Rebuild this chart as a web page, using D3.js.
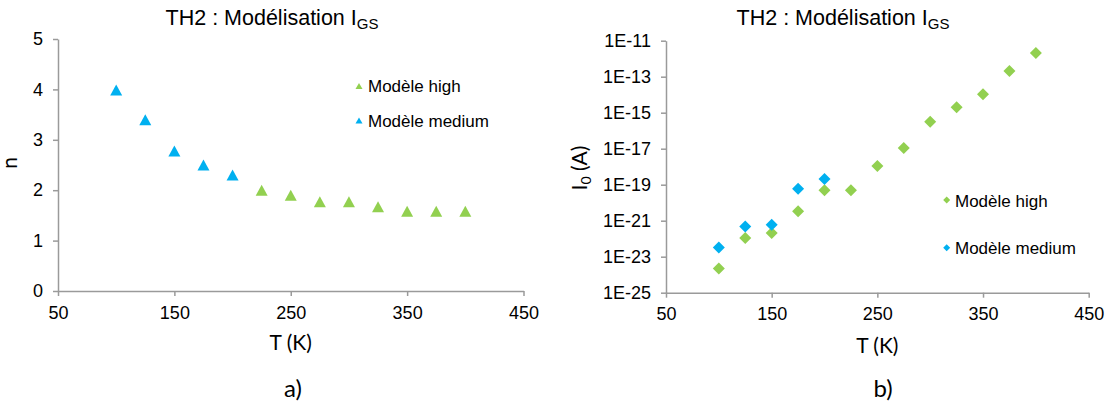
<!DOCTYPE html>
<html>
<head>
<meta charset="utf-8">
<script src="https://cdn.jsdelivr.net/npm/d3@7"></script>
<style>
  html, body { margin: 0; padding: 0; background: #fff; }
  svg { display: block; }
</style>
</head>
<body>
<svg id="chart" width="1115" height="406"></svg>
<script>
// ---------- Data ----------
const tempHighA = [225, 250, 275, 300, 325, 350, 375, 400];
const nHigh = [2.0, 1.9, 1.77, 1.77, 1.67, 1.58, 1.58, 1.58];
const tempMediumA = [100, 125, 150, 175, 200];
const nMedium = [3.99, 3.4, 2.78, 2.5, 2.3];

const tempHighB = [100, 125, 150, 175, 200, 225, 250, 275, 300, 325, 350, 375, 400];
const i0High = [2.2e-24, 1.1e-22, 2.1e-22, 3.3e-21, 4.9e-20, 4.9e-20, 1.1e-18, 1.1e-17, 3.1e-16, 2.0e-15, 1.07e-14, 2.1e-13, 2.1e-12];
const tempMediumB = [100, 125, 150, 175, 200];
const i0Medium = [3.2e-23, 4.7e-22, 6.0e-22, 6.0e-20, 2.1e-19];

const xTicks = [50, 150, 250, 350, 450];
const nTicks = [0, 1, 2, 3, 4, 5];
const i0Ticks = [1e-25, 1e-23, 1e-21, 1e-19, 1e-17, 1e-15, 1e-13, 1e-11];
const legendLabels = ["Modèle high", "Modèle medium"];

// ---------- Styles ----------
const GREEN = "#92D050";
const BLUE = "#00B0F0";
const AXIS = "#9a9a9a";
const SANS = "Liberation Sans, Arial, sans-serif";
const HUM = "Lato, Open Sans, sans-serif";

const svg = d3.select("#chart");
svg.append("rect").attr("width", 1115).attr("height", 406).attr("fill", "#fff");

function triPath(w, h) {
  return `M0,${-h/2}L${w/2},${h/2}L${-w/2},${h/2}Z`;
}
function diaPath(s) {
  return `M0,${-s}L${s},0L0,${s}L${-s},0Z`;
}

function styleAxis(g) {
  g.attr("font-family", SANS).attr("font-size", 18);
  g.select(".domain").attr("stroke", AXIS).attr("stroke-width", 1.5);
  g.selectAll(".tick line").attr("stroke", AXIS).attr("stroke-width", 1.5);
  g.selectAll(".tick text").attr("fill", "#000");
}

function title(x, y) {
  const t = svg.append("text").attr("x", x).attr("y", y)
    .attr("font-family", SANS).attr("font-size", 21.5).attr("fill", "#000")
    .attr("text-anchor", "middle");
  t.append("tspan").text("TH2 : Modélisation  I");
  t.append("tspan").attr("font-size", 15).attr("dy", 4).text("GS");
}

// ---------- Chart a ----------
{
  const x = d3.scaleLinear().domain([50, 450]).range([58, 523.5]);
  const y = d3.scaleLinear().domain([0, 5]).range([291, 39]);

  const gx = svg.append("g").attr("transform", `translate(0,${y(0)})`)
    .call(d3.axisBottom(x).tickValues(xTicks).tickSize(5).tickSizeOuter(0).tickPadding(10));
  styleAxis(gx);
  const gy = svg.append("g").attr("transform", `translate(${x(50)},0)`)
    .call(d3.axisLeft(y).tickValues(nTicks).tickFormat(d3.format("d")).tickSize(5).tickSizeOuter(0).tickPadding(10));
  styleAxis(gy);

  svg.append("g").selectAll("path").data(tempHighA.map((t, i) => [t, nHigh[i]]))
    .join("path").attr("d", triPath(12, 11)).attr("fill", GREEN)
    .attr("transform", d => `translate(${x(d[0])},${y(d[1])})`);
  svg.append("g").selectAll("path").data(tempMediumA.map((t, i) => [t, nMedium[i]]))
    .join("path").attr("d", triPath(12, 11)).attr("fill", BLUE)
    .attr("transform", d => `translate(${x(d[0])},${y(d[1])})`);

  title(272, 25);

  svg.append("text").attr("x", (x(50) + x(450)) / 2).attr("y", 350)
    .attr("text-anchor", "middle").attr("font-family", HUM).attr("font-size", 21).text("T (K)");
  svg.append("text").attr("transform", "translate(17,163) rotate(-90)")
    .attr("text-anchor", "middle").attr("font-family", HUM).attr("font-size", 21).text("n");
  svg.append("text").attr("x", 293).attr("y", 397)
    .attr("text-anchor", "middle").attr("font-family", HUM).attr("font-size", 24).text("a)");

  const leg = svg.append("g");
  [[GREEN, 86], [BLUE, 120.5]].forEach(([c, yy], i) => {
    leg.append("path").attr("d", triPath(7, 6)).attr("fill", c)
      .attr("transform", `translate(359,${yy})`);
    leg.append("text").attr("x", 368).attr("y", yy + 6)
      .attr("font-family", SANS).attr("font-size", 17).text(legendLabels[i]);
  });
}

// ---------- Chart b ----------
{
  const x = d3.scaleLinear().domain([50, 450]).range([666, 1088.7]);
  const y = d3.scaleLog().domain([1e-25, 1e-11]).range([292.7, 40.7]);

  const gx = svg.append("g").attr("transform", `translate(0,${y(1e-25)})`)
    .call(d3.axisBottom(x).tickValues(xTicks).tickSize(5).tickSizeOuter(0).tickPadding(10));
  styleAxis(gx);
  const gy = svg.append("g").attr("transform", `translate(${x(50)},0)`)
    .call(d3.axisLeft(y).tickValues(i0Ticks).tickSize(5).tickSizeOuter(0).tickPadding(10)
      .tickFormat(d => "1E" + Math.round(Math.log10(d))));
  styleAxis(gy);

  svg.append("g").selectAll("path").data(tempHighB.map((t, i) => [t, i0High[i]]))
    .join("path").attr("d", diaPath(6)).attr("fill", GREEN)
    .attr("transform", d => `translate(${x(d[0])},${y(d[1])})`);
  svg.append("g").selectAll("path").data(tempMediumB.map((t, i) => [t, i0Medium[i]]))
    .join("path").attr("d", diaPath(6)).attr("fill", BLUE)
    .attr("transform", d => `translate(${x(d[0])},${y(d[1])})`);

  title(843, 25);

  svg.append("text").attr("x", (x(50) + x(450)) / 2).attr("y", 352.5)
    .attr("text-anchor", "middle").attr("font-family", HUM).attr("font-size", 21).text("T (K)");
  const yt = svg.append("text").attr("transform", "translate(587,168) rotate(-90)")
    .attr("text-anchor", "middle").attr("font-family", HUM).attr("font-size", 21);
  yt.append("tspan").text("I");
  yt.append("tspan").attr("font-size", 14).attr("dy", 4).text("0");
  yt.append("tspan").attr("dy", -4).text(" (A)");
  svg.append("text").attr("x", 883).attr("y", 397)
    .attr("text-anchor", "middle").attr("font-family", HUM).attr("font-size", 24).text("b)");

  const leg = svg.append("g");
  [[GREEN, 200], [BLUE, 247.7]].forEach(([c, yy], i) => {
    leg.append("path").attr("d", diaPath(3.5)).attr("fill", c)
      .attr("transform", `translate(946.7,${yy})`);
    leg.append("text").attr("x", 955).attr("y", yy + 6.5)
      .attr("font-family", SANS).attr("font-size", 17).text(legendLabels[i]);
  });
}
</script>
</body>
</html>
